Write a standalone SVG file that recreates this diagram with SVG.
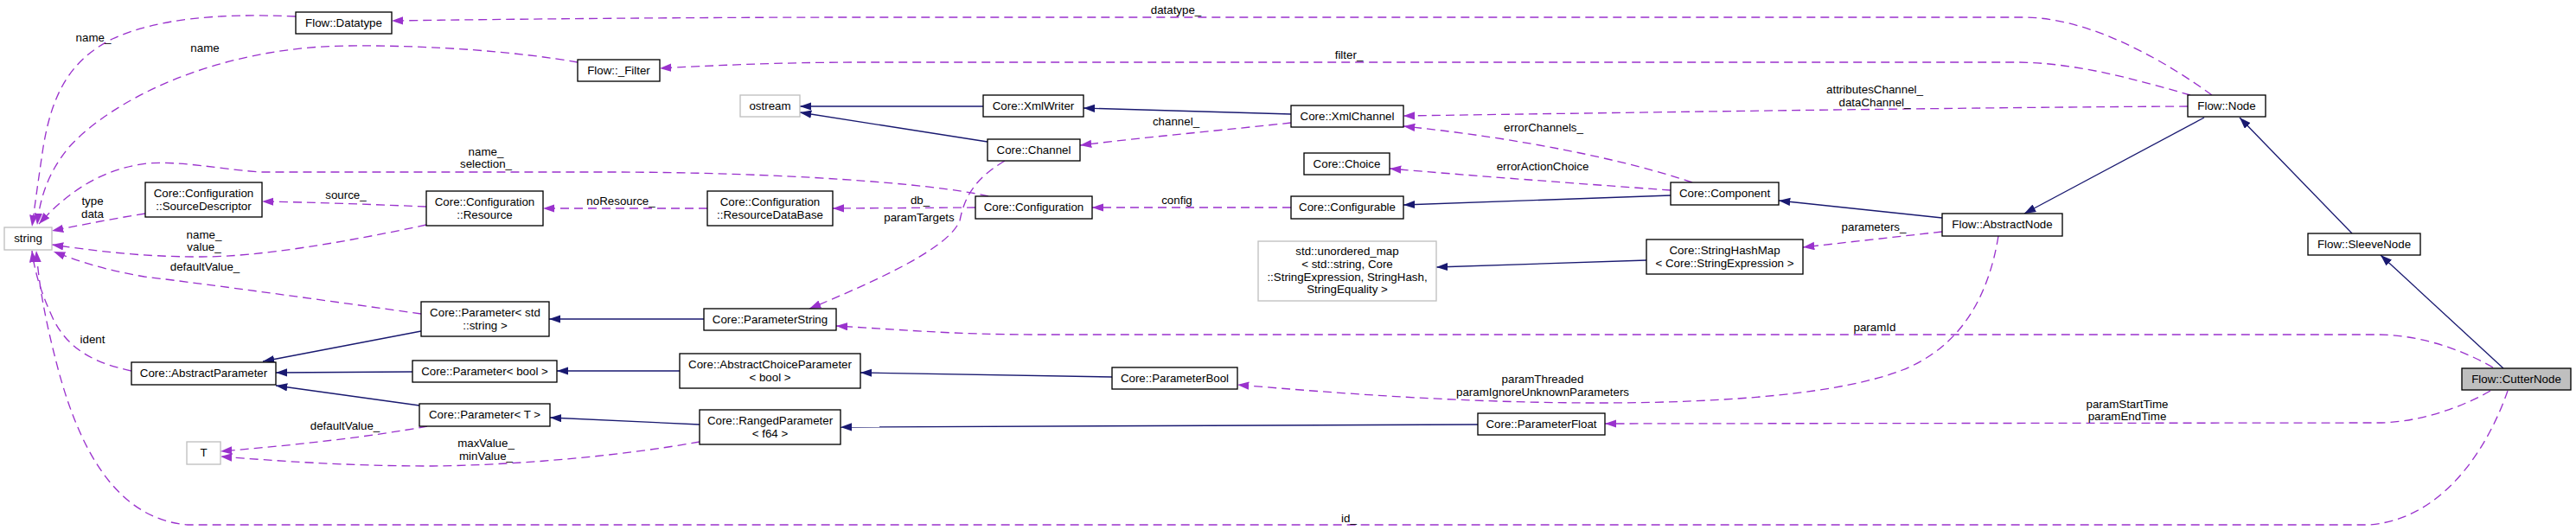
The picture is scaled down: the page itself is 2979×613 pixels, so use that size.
<svg xmlns="http://www.w3.org/2000/svg" width="2979" height="613" viewBox="0 0 2979 613">
<style>
text{font-family:"Liberation Sans",Arial,Helvetica,sans-serif;font-size:13.33px;fill:#000}
.n rect{fill:#fff;stroke:#000;stroke-width:1.33}
.x rect{fill:#fff;stroke:#bfbfbf;stroke-width:1.33}
.cur rect{fill:#bfbfbf;stroke:#000;stroke-width:1.33}
.n text,.x text,.cur text{text-anchor:middle}
.inh{fill:none;stroke:#191970;stroke-width:1.33;marker-end:url(#ab)}
.use{fill:none;stroke:#9a32cd;stroke-width:1.33;stroke-dasharray:10,6;marker-end:url(#ap)}
.lbl{text-anchor:middle}
</style>
<defs>
<marker id="ab" markerUnits="userSpaceOnUse" markerWidth="15" markerHeight="11" refX="13.3" refY="4.7" orient="auto"><path d="M0,0 L13.3,4.7 L0,9.4 z" fill="#191970"/></marker>
<marker id="ap" markerUnits="userSpaceOnUse" markerWidth="15" markerHeight="11" refX="13.3" refY="4.7" orient="auto"><path d="M0,0 L13.3,4.7 L0,9.4 z" fill="#9a32cd"/></marker>
</defs>
<rect width="2979" height="613" fill="#fff"/>
<g id="connectors">
<path class="inh" d="M1137,123 L925,123"/>
<path class="inh" d="M1142,164 L925,130"/>
<path class="inh" d="M1493,132 L1253,125"/>
<path class="inh" d="M1932,226 L1623,237"/>
<path class="inh" d="M2246,252 L2057,232"/>
<path class="inh" d="M2549,136 L2341,247"/>
<path class="inh" d="M2720,270 L2590,136"/>
<path class="inh" d="M2895,426 L2753,295"/>
<path class="inh" d="M1904,301 L1661,309"/>
<path class="inh" d="M814,369 L635,369"/>
<path class="inh" d="M786,429 L644,429"/>
<path class="inh" d="M1286,436 L995,431"/>
<path class="inh" d="M809,491 L636,483"/>
<path class="inh" d="M1709,491 L972,494"/>
<path class="inh" d="M487,383 L304,418"/>
<path class="inh" d="M477,430 L319,431"/>
<path class="inh" d="M485,469 L319,446"/>

<path class="use" d="M2558,110 C2510,75 2420,20 2340,20 L1000,20 C800,20 600,22 453,24"/>
<text class="lbl" x="1360" y="16">datatype_</text>
<path class="use" d="M2533,110 C2470,92 2400,72 2330,72 L1000,72 C900,72 820,76 763,79"/>
<text class="lbl" x="1560" y="68">filter_</text>
<path class="use" d="M2530,123 C2300,124 1900,130 1623,134"/>
<text class="lbl" x="2168" y="108">attributesChannel_</text>
<text class="lbl" x="2168" y="123">dataChannel_</text>
<path class="use" d="M1957,211 C1880,185 1760,160 1623,146"/>
<text class="lbl" x="1785" y="152">errorChannels_</text>
<path class="use" d="M1932,220 C1820,212 1700,203 1607,195"/>
<text class="lbl" x="1784" y="197">errorActionChoice</text>
<path class="use" d="M1493,240 L1263,240"/>
<text class="lbl" x="1361" y="236">config</text>
<path class="use" d="M1493,142 C1420,150 1330,158 1249,168"/>
<text class="lbl" x="1360" y="145">channel_</text>
<path class="use" d="M1128,240 L963,241"/>
<text class="lbl" x="1064" y="236">db_</text>
<path class="use" d="M1143,227 C1080,212 900,199 700,199 L300,199 C250,195 210,186 170,189 C120,195 80,220 45,259"/>
<text class="lbl" x="562" y="180">name_</text>
<text class="lbl" x="562" y="194">selection_</text>
<path class="use" d="M818,241 L628,241"/>
<text class="lbl" x="718" y="237">noResource_</text>
<path class="use" d="M493,239 C420,236 360,234 303,233"/>
<text class="lbl" x="400" y="230">source_</text>
<path class="use" d="M168,247 C130,253 95,260 60,267"/>
<text class="lbl" x="107" y="237">type</text>
<text class="lbl" x="107" y="252">data</text>
<path class="use" d="M493,260 C400,280 300,297 233,297 C160,297 110,290 60,283"/>
<text class="lbl" x="236" y="276">name_</text>
<text class="lbl" x="236" y="290">value_</text>
<path class="use" d="M487,363 C380,348 250,330 167,320 C120,312 90,302 62,291"/>
<text class="lbl" x="237" y="313">defaultValue_</text>
<path class="use" d="M152,429 C110,420 80,405 62,370 C48,340 40,315 37,290"/>
<text class="lbl" x="107" y="397">ident</text>
<path class="use" d="M2900,452 C2880,510 2830,600 2740,607 L217,607 C130,600 90,510 68,430 C52,370 45,330 42,290"/>
<text class="lbl" x="1560" y="604">id_</text>
<path class="use" d="M1162,186 C1125,208 1115,230 1110,255 C1100,280 1050,310 936,357"/>
<text class="lbl" x="1063" y="256">paramTargets</text>
<path class="use" d="M2883,425 C2840,400 2790,387 2750,387 L1200,387 C1100,387 1040,381 967,377"/>
<text class="lbl" x="2168" y="383">paramId</text>
<path class="use" d="M2311,273 C2300,340 2270,400 2200,428 C2130,455 2000,466 1850,466 C1700,466 1560,456 1431,445"/>
<text class="lbl" x="1784" y="443">paramThreaded</text>
<text class="lbl" x="1784" y="458">paramIgnoreUnknownParameters</text>
<path class="use" d="M2880,452 C2840,475 2790,489 2750,489 L1856,490"/>
<text class="lbl" x="2460" y="472">paramStartTime</text>
<text class="lbl" x="2460" y="486">paramEndTime</text>
<path class="use" d="M494,493 C430,505 340,515 255,522"/>
<text class="lbl" x="399" y="497">defaultValue_</text>
<path class="use" d="M809,511 C720,527 600,538 500,539 C400,539 320,533 255,528"/>
<text class="lbl" x="562" y="517">maxValue_</text>
<text class="lbl" x="562" y="532">minValue_</text>
<path class="use" d="M668,72 C600,60 500,52 400,53 C250,55 130,115 80,170 C55,200 46,230 43,260"/>
<text class="lbl" x="237" y="60">name</text>
<path class="use" d="M342,19 C250,15 180,22 130,45 C80,70 60,110 50,170 C44,210 40,240 37,262"/>
<text class="lbl" x="108" y="48">name_</text>
<path class="use" d="M2246,268 L2085,286"/>
<text class="lbl" x="2167" y="267">parameters_</text>
</g>

<g id="cutternode" class="cur"><rect x="2847" y="426" width="126" height="25"/><text x="2910" y="443">Flow::CutterNode</text></g>
<g id="sleevenode" class="n"><rect x="2669" y="270" width="130" height="25"/><text x="2734" y="287">Flow::SleeveNode</text></g>
<g id="node" class="n"><rect x="2530" y="110" width="90" height="25"/><text x="2575" y="127">Flow::Node</text></g>
<g id="abstractnode" class="n"><rect x="2246" y="247" width="139" height="26"/><text x="2315.5" y="264">Flow::AbstractNode</text></g>
<g id="datatype" class="n"><rect x="342" y="14" width="111" height="25"/><text x="397.5" y="31">Flow::Datatype</text></g>
<g id="filter" class="n"><rect x="668" y="69" width="95" height="25"/><text x="715.5" y="86">Flow::_Filter</text></g>
<g id="string" class="x"><rect x="5" y="263" width="55" height="26"/><text x="32.5" y="280">string</text></g>
<g id="sourcedescriptor" class="n"><rect x="168" y="211" width="135" height="40"/><text x="235.5" y="228">Core::Configuration</text><text x="235.5" y="243">::SourceDescriptor</text></g>
<g id="resource" class="n"><rect x="493" y="221" width="135" height="40"/><text x="560.5" y="238">Core::Configuration</text><text x="560.5" y="253">::Resource</text></g>
<g id="resourcedatabase" class="n"><rect x="818" y="221" width="145" height="40"/><text x="890.5" y="238">Core::Configuration</text><text x="890.5" y="253">::ResourceDataBase</text></g>
<g id="ostream" class="x"><rect x="856" y="110" width="69" height="25"/><text x="890.5" y="127">ostream</text></g>
<g id="xmlwriter" class="n"><rect x="1137" y="110" width="116" height="25"/><text x="1195" y="127">Core::XmlWriter</text></g>
<g id="channel" class="n"><rect x="1142" y="161" width="107" height="25"/><text x="1195.5" y="178">Core::Channel</text></g>
<g id="configuration" class="n"><rect x="1128" y="227" width="135" height="26"/><text x="1195.5" y="244">Core::Configuration</text></g>
<g id="xmlchannel" class="n"><rect x="1493" y="122" width="130" height="25"/><text x="1558" y="139">Core::XmlChannel</text></g>
<g id="choice" class="n"><rect x="1508" y="177" width="99" height="25"/><text x="1557.5" y="194">Core::Choice</text></g>
<g id="configurable" class="n"><rect x="1493" y="227" width="130" height="26"/><text x="1558" y="244">Core::Configurable</text></g>
<g id="component" class="n"><rect x="1932" y="211" width="125" height="26"/><text x="1994.5" y="228">Core::Component</text></g>
<g id="unorderedmap" class="x"><rect x="1455" y="279" width="206" height="69"/><text x="1558" y="295">std::unordered_map</text><text x="1558" y="310">&lt; std::string, Core</text><text x="1558" y="324.5">::StringExpression, StringHash,</text><text x="1558" y="339">StringEquality &gt;</text></g>
<g id="stringhashmap" class="n"><rect x="1904" y="277" width="181" height="40"/><text x="1994.5" y="294">Core::StringHashMap</text><text x="1994.5" y="309">&lt; Core::StringExpression &gt;</text></g>
<g id="abstractparameter" class="n"><rect x="152" y="419" width="167" height="26"/><text x="235.5" y="436">Core::AbstractParameter</text></g>
<g id="t" class="x"><rect x="216" y="511" width="39" height="26"/><text x="235.5" y="528">T</text></g>
<g id="paramstd" class="n"><rect x="487" y="349" width="148" height="40"/><text x="561" y="366">Core::Parameter&lt; std</text><text x="561" y="381">::string &gt;</text></g>
<g id="parambool" class="n"><rect x="477" y="417" width="167" height="25"/><text x="560.5" y="434">Core::Parameter&lt; bool &gt;</text></g>
<g id="paramt" class="n"><rect x="485" y="467" width="151" height="26"/><text x="560.5" y="484">Core::Parameter&lt; T &gt;</text></g>
<g id="parameterstring" class="n"><rect x="814" y="357" width="153" height="25"/><text x="890.5" y="374">Core::ParameterString</text></g>
<g id="abstractchoiceparameter" class="n"><rect x="786" y="409" width="209" height="40"/><text x="890.5" y="426">Core::AbstractChoiceParameter</text><text x="890.5" y="441">&lt; bool &gt;</text></g>
<g id="rangedparameter" class="n"><rect x="809" y="474" width="163" height="40"/><text x="890.5" y="491">Core::RangedParameter</text><text x="890.5" y="506">&lt; f64 &gt;</text></g>
<g id="parameterbool" class="n"><rect x="1286" y="425" width="145" height="25"/><text x="1358.5" y="442">Core::ParameterBool</text></g>
<g id="parameterfloat" class="n"><rect x="1709" y="478" width="147" height="25"/><text x="1782.5" y="495">Core::ParameterFloat</text></g>
</svg>
